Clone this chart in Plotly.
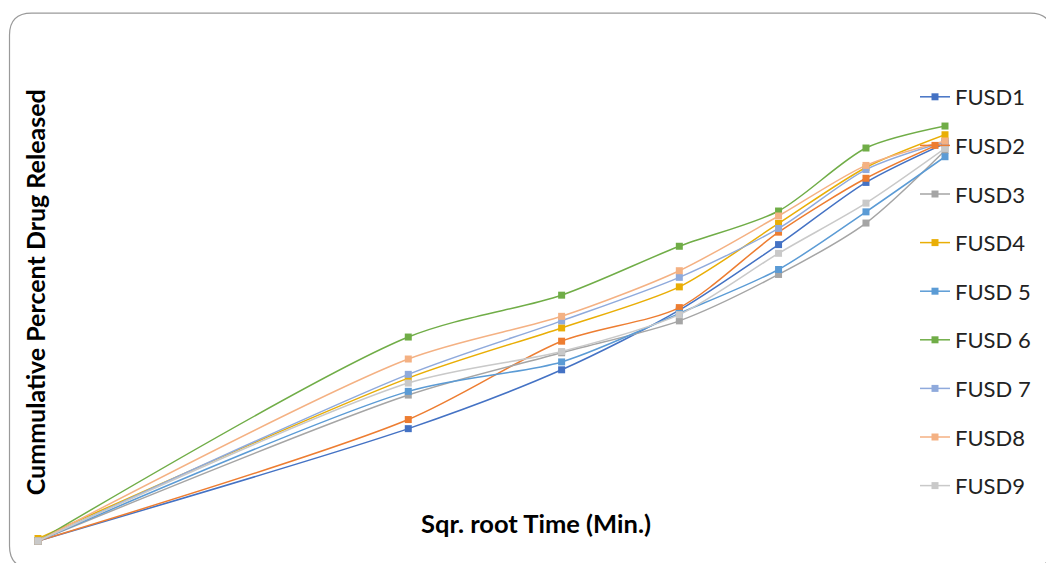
import plotly.graph_objects as go

# Sqrt of time (minutes): 0, 60, 120, 180, 240, 300, 360 min
sqrt_time = [0, 7.746, 10.954, 13.416, 15.492, 17.321, 18.974]

series_names = ["FUSD1", "FUSD2", "FUSD3", "FUSD4", "FUSD 5", "FUSD 6", "FUSD 7", "FUSD8", "FUSD9"]

fusd1 = [0, 27.1, 41.3, 55.7, 71.5, 86.5, 95.9]
fusd2 = [0, 29.3, 48.2, 56.3, 74.5, 87.5, 96.4]
fusd3 = [0, 35.2, 45.4, 53.1, 64.3, 76.7, 94.2]
fusd4 = [0.6, 39.3, 51.4, 61.3, 76.6, 90.1, 98.0]
fusd5 = [0, 36.1, 43.2, 54.9, 65.5, 79.4, 92.7]
fusd6 = [0, 49.2, 59.3, 71.1, 79.6, 94.8, 100.1]
fusd7 = [0, 40.2, 53.1, 63.6, 75.4, 89.6, 96.3]
fusd8 = [0, 43.9, 54.2, 65.2, 78.4, 90.6, 96.5]
fusd9 = [0, 38.1, 45.7, 54.6, 69.4, 81.5, 94.7]

all_values = [fusd1, fusd2, fusd3, fusd4, fusd5, fusd6, fusd7, fusd8, fusd9]
colors = ["#4472C4", "#ED7D31", "#A5A5A5", "#E9AE06", "#5B9BD5",
          "#70AD47", "#8FAADC", "#F4B183", "#C9C9C9"]

W, H = 1046, 563
L, R, T, B = 38, 101, 84.5, 22
pw = W - L - R
ph = H - T - B

def px(x):
    return (x - L) / pw

def py(y):
    return (H - B - y) / ph

fig = go.Figure()
for i, (name, vals, c) in enumerate(zip(series_names, all_values, colors)):
    fig.add_trace(go.Scatter(
        x=sqrt_time, y=vals, name=name, mode="lines+markers",
        line=dict(color=c, width=1.5, shape="spline", smoothing=0.8),
        marker=dict(symbol="square", size=7, color=c),
        cliponaxis=False, legendgroup=f"g{i}",
    ))

# rounded chart border
x0, y0, x1, y1, r = 9.5, 12.5, 1052, 568, 22
path = (f"M {px(x0+r)} {py(y0)} L {px(x1-r)} {py(y0)} "
        f"Q {px(x1)} {py(y0)} {px(x1)} {py(y0+r)} L {px(x1)} {py(y1-r)} "
        f"Q {px(x1)} {py(y1)} {px(x1-r)} {py(y1)} L {px(x0+r)} {py(y1)} "
        f"Q {px(x0)} {py(y1)} {px(x0)} {py(y1-r)} L {px(x0)} {py(y0+r)} "
        f"Q {px(x0)} {py(y0)} {px(x0+r)} {py(y0)} Z")
fig.add_shape(type="path", path=path, xref="paper", yref="paper",
              line=dict(color="#9A9A9A", width=1.2), layer="below")

fig.add_annotation(text="<b>Cummulative Percent Drug Released</b>", textangle=-90,
                   xref="paper", yref="paper", x=px(35), y=py(292),
                   xanchor="center", yanchor="middle",
                   showarrow=False, font=dict(family="Lato", size=25, color="black"))
fig.add_annotation(text="<b>Sqr. root Time (Min.)</b>",
                   xref="paper", yref="paper", x=px(536), y=py(523),
                   xanchor="center", yanchor="middle",
                   showarrow=False, font=dict(family="Lato", size=25.5, color="black"))

fig.update_layout(
    width=W, height=H,
    margin=dict(l=L, r=R, t=T, b=B, autoexpand=False),
    paper_bgcolor="white", plot_bgcolor="white",
    xaxis=dict(range=[0, 18.974], visible=False),
    yaxis=dict(range=[0, 110], visible=False),
    showlegend=True,
    legend=dict(x=915 / W, y=1 - 76 / H, xref="container", yref="container",
                xanchor="left", yanchor="top", maxheight=560,
                font=dict(family="Lato", size=22, color="#222"),
                tracegroupgap=17, bgcolor="rgba(0,0,0,0)"),
    font=dict(family="Lato"),
)

fig.write_html("out.html")
